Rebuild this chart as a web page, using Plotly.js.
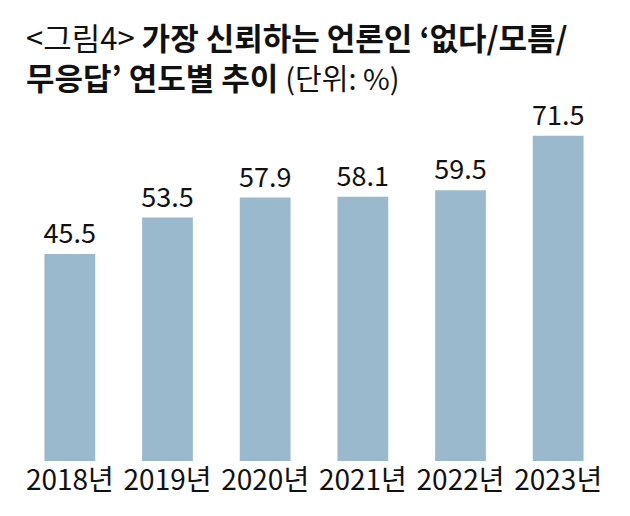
<!DOCTYPE html>
<html>
<head>
<meta charset="utf-8">
<script src="https://cdn.plot.ly/plotly-3.0.1.min.js"></script>
<style>
  html, body { margin: 0; padding: 0; background: #fff; }
  #chart { width: 630px; height: 516px; }
</style>
</head>
<body>
<div id="chart"></div>
<script>
const years = ["2018", "2019", "2020", "2021", "2022", "2023"];
const yearLabels = ["2018년", "2019년", "2020년", "2021년", "2022년", "2023년"];
const noneShare = [45.5, 53.5, 57.9, 58.1, 59.5, 71.5];
const titleLines = [
  "<span style='font-weight:400'>&lt;그림4&gt;</span> <b>가장 신뢰하는 언론인 ‘없다/모름/</b>",
  "<b>무응답’ 연도별 추이</b> <span style='font-weight:400;font-size:29px'>(단위: %)</span>",
];

const font = "Noto Sans CJK KR, Noto Sans, sans-serif";

// plot area in pixels, used to place the title block
const plotTop = 97;
const plotBottom = 461;
const plotLeft = 21;
const plotWidth = 630 - 21 - 23;
const toPaperY = (px) => (plotBottom - px) / (plotBottom - plotTop);
const toPaperX = (px) => (px - plotLeft) / plotWidth;

const trace = {
  type: "bar",
  x: years,
  y: noneShare,
  marker: { color: "#9bb9cc" },
  text: noneShare.map((v) => v.toFixed(1)),
  textposition: "outside",
  constraintext: "none",
  cliponaxis: false,
  textfont: { family: font, size: 27, color: "#111" },
  hoverinfo: "none",
};

const layout = {
  width: 630,
  height: 516,
  margin: { l: plotLeft, r: 23, t: plotTop, b: 516 - plotBottom },
  paper_bgcolor: "#fff",
  plot_bgcolor: "#fff",
  bargap: 0.48,
  showlegend: false,
  font: { family: font, color: "#111" },
  annotations: [
    {
      text: titleLines.join("<br>"),
      xref: "paper",
      yref: "paper",
      x: toPaperX(24),
      y: toPaperY(57),
      xanchor: "left",
      yanchor: "middle",
      showarrow: false,
      align: "left",
      font: { family: font, size: 31, color: "#111" },
    },
  ],
  xaxis: {
    type: "category",
    tickvals: years,
    ticktext: yearLabels,
    range: [-0.5, 5.5],
    showgrid: false,
    zeroline: false,
    showline: false,
    ticks: "",
    tickfont: { family: font, size: 28, color: "#111" },
    fixedrange: true,
  },
  yaxis: {
    range: [0, 80],
    visible: false,
    showgrid: false,
    zeroline: false,
    fixedrange: true,
  },
};

Plotly.newPlot("chart", [trace], layout, { displayModeBar: false, staticPlot: true });
</script>
</body>
</html>
